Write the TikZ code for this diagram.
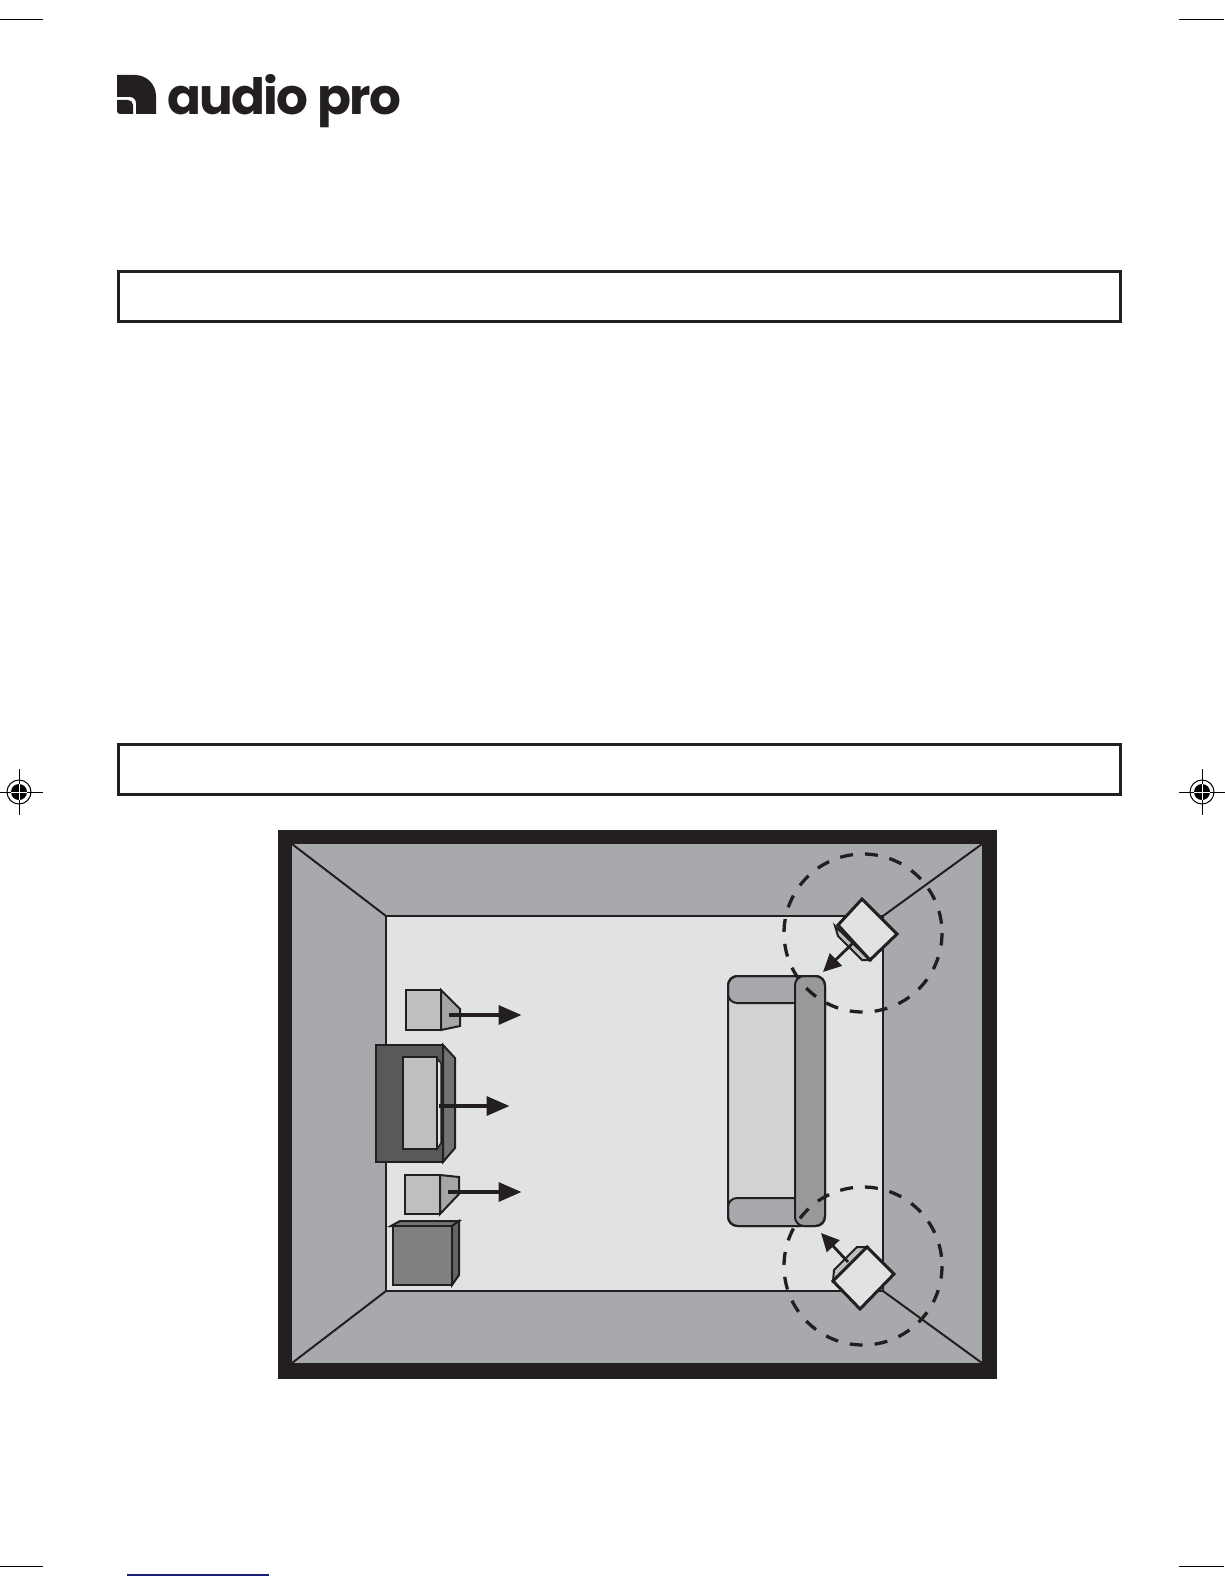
\documentclass[tikz,border=0pt]{standalone}
\usepackage{fontspec}
\setmainfont{Poppins}
\usepackage{tikz}
\usepackage{color}
\usetikzlibrary{arrows.meta}
\definecolor{inkblack}{HTML}{231F20}
\definecolor{wallgray}{HTML}{A8A9AC}
\definecolor{floorgray}{HTML}{E1E2E4}
\definecolor{navyline}{HTML}{1B1F7A}
\tikzset{
    ink/.style={draw=inkblack, line width=2pt, line join=miter},
    shot/.style={draw=inkblack, line width=3.5pt, -{Triangle[length=23pt,width=19pt]}},
    shotsmall/.style={draw=inkblack, line width=2.8pt, -{Triangle[length=18pt,width=17pt]}},
    titlebox/.style={draw=inkblack, line width=3pt},
    reach/.style={draw=inkblack, line width=3.3pt, dash pattern=on 13pt off 11.98pt, dash phase=0.5pt},
    trim/.style={draw=black, line width=1pt}
}
\newcommand{\regmark}[2]{
    \draw[trim] (#1-23.5,#2) -- (#1+23.5,#2) (#1,#2-23) -- (#1,#2+23);
    \draw[trim] (#1,#2) circle (12);
    \fill[black] (#1,#2) circle (8);
    \draw[white, line width=1pt] (#1-8,#2) -- (#1+8,#2) (#1,#2-8) -- (#1,#2+8);
}
\begin{document}
\begin{tikzpicture}[x=1pt, y=-1pt]
    \useasboundingbox (0,0) rectangle (1224,1584);
    \fill[white] (0,0) rectangle (1224,1584);
    % trim marks
    \draw[trim] (0,19.5) -- (43,19.5);
    \draw[trim] (1179,19.5) -- (1224,19.5);
    \draw[trim] (0,1566) -- (43,1566);
    \draw[trim] (1179,1566) -- (1224,1566);
    \draw[navyline, line width=1.3pt] (127,1575) -- (269,1575);
    \regmark{19}{792}
    \regmark{1202}{792}
    % logo
    \fill[inkblack] (117,75) -- (135,75) arc (-90:0:21) -- (156,114) -- (136,114) -- (136,103)
        arc (0:-90:6) -- (117,97) -- cycle;
    \fill[inkblack] (117,100) -- (128,100) arc (-90:0:5) -- (133,114) -- (120,114) arc (90:180:3) -- cycle;
    \node[anchor=base west, inner sep=0pt, text=inkblack] (logo) at (167,114)
        {\fontsize{50pt}{50pt}\selectfont\addfontfeature{LetterSpace=-3.5}\bfseries audio pro};
    % title boxes
    \draw[titlebox] (118.5,271.5) rectangle (1120.5,321.5);
    \draw[titlebox] (118.5,744.5) rectangle (1120.5,794.5);
    % room
    \fill[inkblack] (278,830) rectangle (997,1379);
    \fill[wallgray] (292,844) rectangle (982,1363);
    \fill[floorgray] (386,916) rectangle (883,1291);
    \draw[ink] (386,916) rectangle (883,1291);
    \draw[ink] (292,844) -- (386,916);
    \draw[ink] (292,1363) -- (386,1291);
    \draw[ink] (982,844) -- (883,916);
    \draw[ink] (982,1363) -- (883,1291);
    % sofa
    \fill[gray!35!white, rounded corners=10pt] (728,976) rectangle (825,1226);
    \draw[ink, fill=wallgray, rounded corners=9pt] (800,976) -- (728,976) -- (728,1003) -- (800,1003);
    \draw[ink, fill=wallgray, rounded corners=9pt] (800,1198) -- (728,1198) -- (728,1226) -- (800,1226);
    \draw[ink, fill=black!40!white, rounded corners=9pt] (795,976) -- (825,976) -- (825,1226) -- (795,1226) -- cycle;
    \draw[ink, rounded corners=10pt] (728,976) rectangle (825,1226);
    % front speakers, TV and sub
    \draw[ink, fill=gray!70!white] (441,990) -- (460,1009) -- (460,1026) -- (441,1030) -- cycle;
    \draw[ink, fill=gray!50!white] (406,990) rectangle (441,1030);
    \draw[ink, fill=black!65!white] (376,1045) rectangle (443,1162);
    \draw[ink, fill=black!55!white] (443,1045) -- (455,1058) -- (455,1148) -- (443,1162) -- cycle;
    \draw[ink, line width=1.5pt, fill=gray!50!white] (403,1057) rectangle (437,1149);
    \draw[ink, line width=1.5pt, fill=floorgray] (437,1059) -- (441,1063) -- (441,1143) -- (437,1149) -- cycle;
    \draw[ink, fill=gray!70!white] (440,1175) -- (459,1177) -- (459,1194) -- (440,1214) -- cycle;
    \draw[ink, fill=gray!50!white] (405,1175) rectangle (440,1214);
    \draw[ink, fill=black!55!white] (391,1226) -- (400,1221) -- (459,1221) -- (452,1226) -- cycle;
    \draw[ink, fill=black!60!white] (452,1226) -- (459,1221) -- (459,1275) -- (452,1285) -- cycle;
    \draw[ink, fill=black!50!white] (393,1226) rectangle (452,1285);
    \coordinate (SpkL) at (449,1015);
    \coordinate (SpkC) at (439,1106);
    \coordinate (SpkR) at (448,1192);
    \draw[shot] (SpkL) -- (521.5,1015);
    \draw[shot] (SpkC) -- (509.5,1106);
    \draw[shot] (SpkR) -- (521.5,1192);
    % rear speakers
    \coordinate (CircA) at (863,933);
    \coordinate (CircB) at (863,1266);
    \draw[reach] (CircA) circle (79);
    \draw[reach] (CircB) circle (79);
    \draw[ink, fill=gray!50!white] (835,926) -- (838,936) -- (862,960) -- (870,960) -- cycle;
    \draw[ink, line width=3pt, fill=floorgray] (862,899) -- (897,934) -- (870,960) -- (838,925) -- cycle;
    \draw[shotsmall] (853,943) -- (823,972);
    \draw[ink, fill=gray!50!white] (833,1281) -- (834,1270) -- (857,1247) -- (867,1247) -- cycle;
    \draw[ink, line width=3pt, fill=floorgray] (867,1247) -- (894,1274) -- (860,1309) -- (833,1281) -- cycle;
    \draw[shotsmall] (848,1262) -- (821,1233);
\end{tikzpicture}
\end{document}
